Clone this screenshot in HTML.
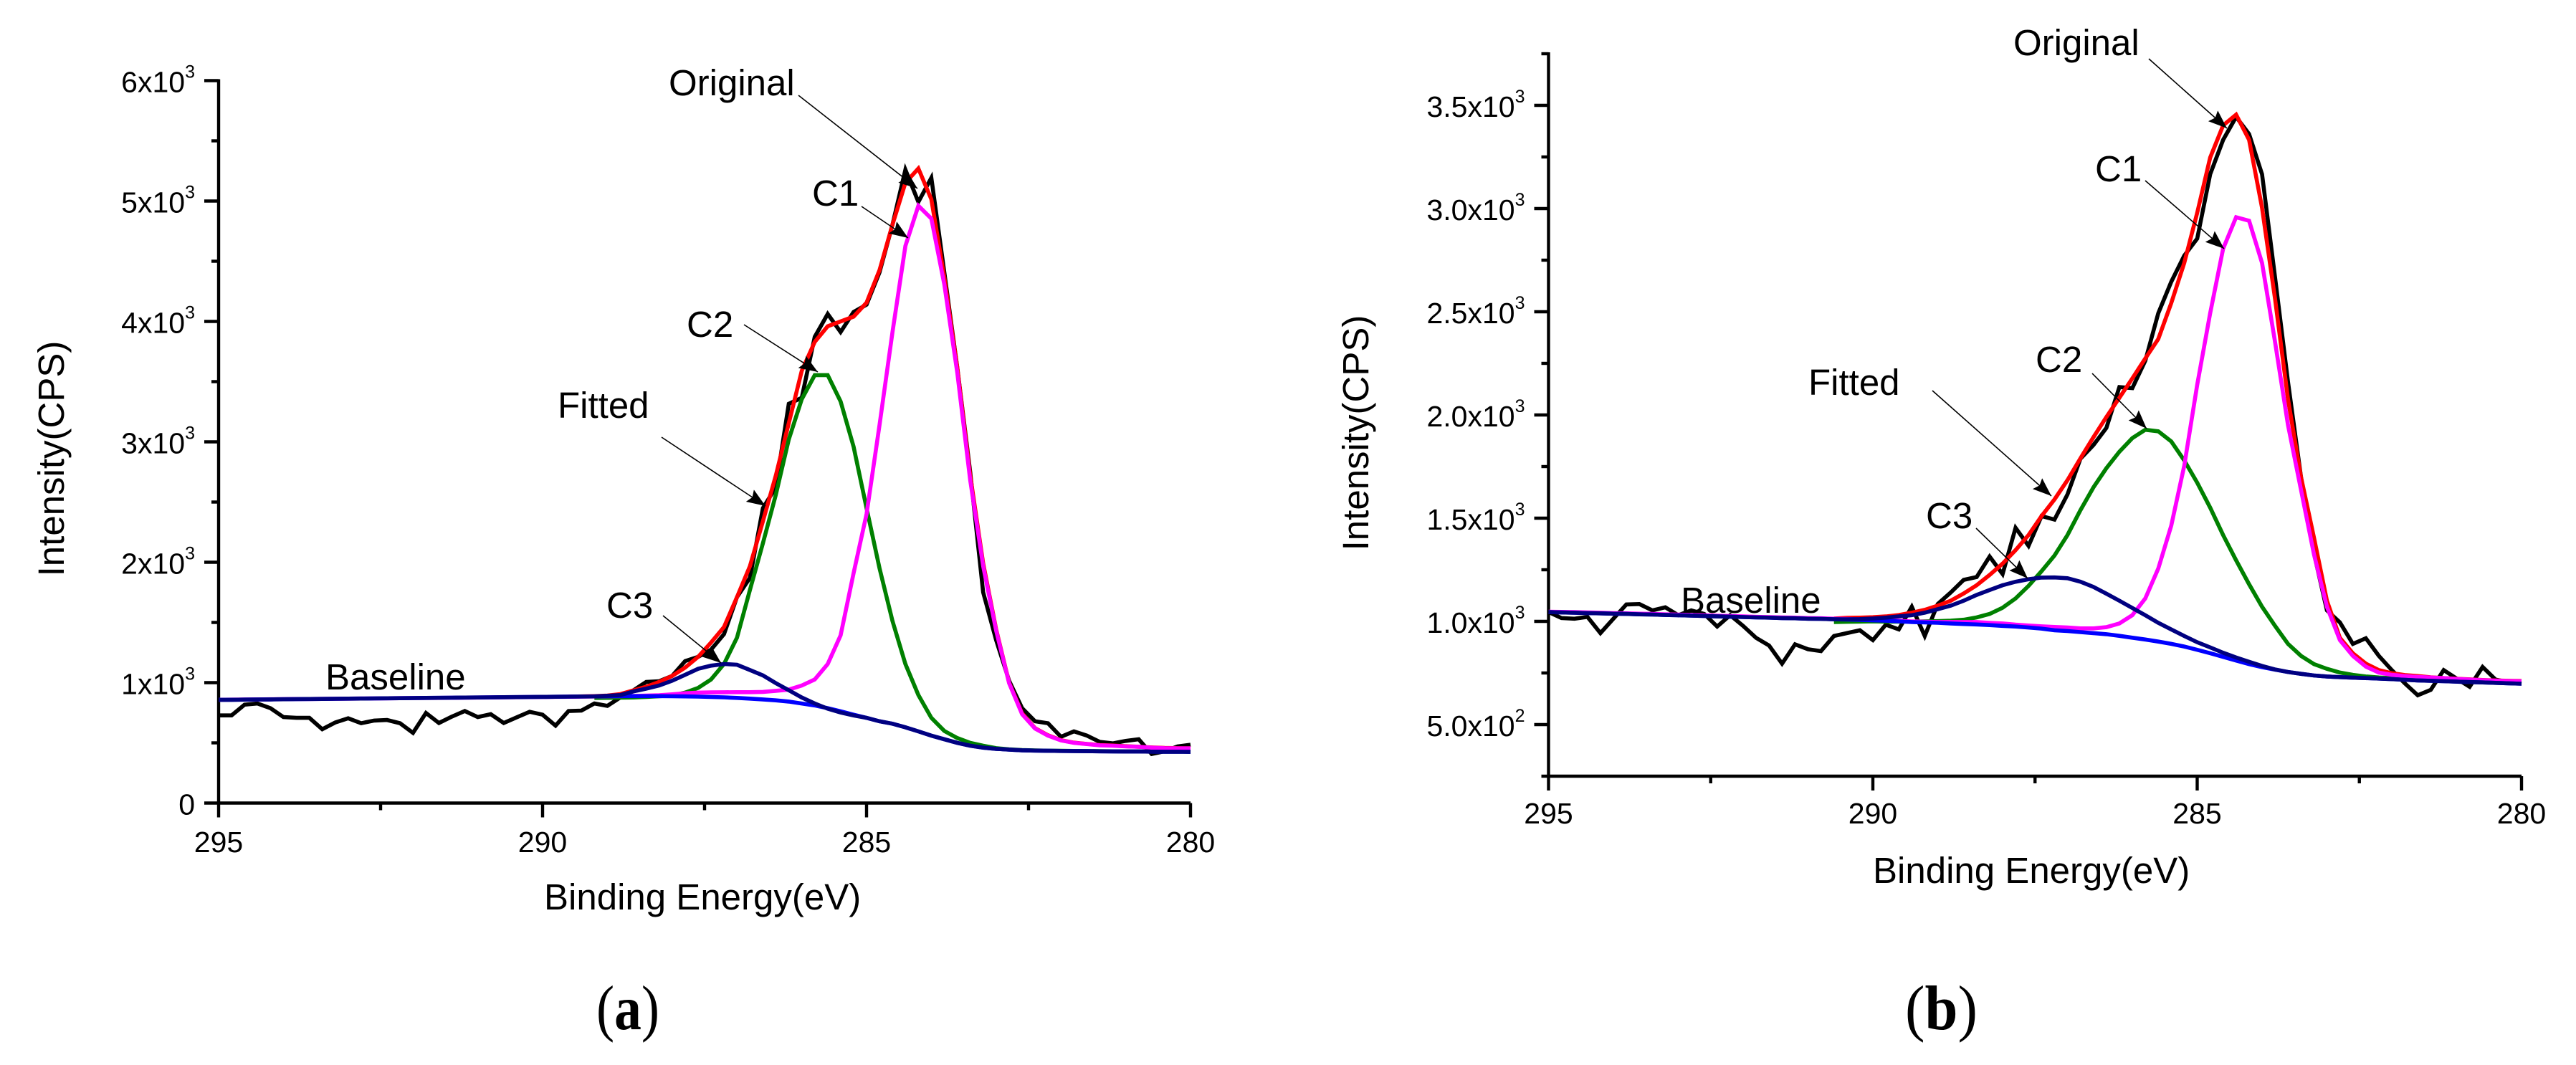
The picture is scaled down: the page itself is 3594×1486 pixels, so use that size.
<!DOCTYPE html>
<html lang="en">
<head>
<meta charset="utf-8">
<title>XPS C1s spectra (a) and (b)</title>
<style>
html,body{margin:0;padding:0;background:#fff;}
svg{display:block;}
text{font-family:"Liberation Sans",Arial,sans-serif;fill:#000;}
.lbl{font-size:51px;}
.cap{font-family:"Liberation Serif","Times New Roman",serif;font-size:88px;}
.ann{stroke:#000;stroke-width:1.6;fill:none;}
</style>
</head>
<body>
<svg id="figure" xmlns="http://www.w3.org/2000/svg" width="3594" height="1486" viewBox="0 0 3594 1486">
<defs>
<marker id="arrow" markerUnits="userSpaceOnUse" markerWidth="30" markerHeight="24" refX="26" refY="10" orient="auto">
<path d="M0 0 L26 10 L0 20 L4 10 Z" fill="#000"/>
</marker>
</defs>
<rect x="0" y="0" width="3594" height="1486" fill="#fff"/>
<g id="panel-a"></g>
<g id="panel-b"></g>

<g>
<text class="lbl" x="933" y="133">Original</text>
<line class="ann" x1="1114" y1="133" x2="1280" y2="263" marker-end="url(#arrow)"/>
<text class="lbl" x="1133" y="287">C1</text>
<line class="ann" x1="1202" y1="288" x2="1267" y2="332" marker-end="url(#arrow)"/>
<text class="lbl" x="958" y="470">C2</text>
<line class="ann" x1="1038" y1="453" x2="1141" y2="519" marker-end="url(#arrow)"/>
<text class="lbl" x="778" y="583">Fitted</text>
<line class="ann" x1="923" y1="610" x2="1068" y2="706" marker-end="url(#arrow)"/>
<text class="lbl" x="846" y="862">C3</text>
<line class="ann" x1="925" y1="859" x2="1006" y2="925" marker-end="url(#arrow)"/>
<text class="lbl" x="454" y="962">Baseline</text>
<text class="lbl" x="759" y="1269">Binding Energy(eV)</text>
<text class="lbl" text-anchor="middle" transform="translate(89 640) rotate(-90)">Intensity(CPS)</text>
<text class="cap" x="832" y="1436" textLength="88" lengthAdjust="spacingAndGlyphs">(<tspan font-weight="bold">a</tspan>)</text>
</g>

<g>
<text class="lbl" x="2809" y="77">Original</text>
<line class="ann" x1="2998" y1="82" x2="3107" y2="179" marker-end="url(#arrow)"/>
<text class="lbl" x="2923" y="253">C1</text>
<line class="ann" x1="2993" y1="252" x2="3103" y2="347" marker-end="url(#arrow)"/>
<text class="lbl" x="2840" y="519">C2</text>
<line class="ann" x1="2919" y1="521" x2="2995" y2="598" marker-end="url(#arrow)"/>
<text class="lbl" x="2523" y="551">Fitted</text>
<line class="ann" x1="2696" y1="545" x2="2862" y2="692" marker-end="url(#arrow)"/>
<text class="lbl" x="2687" y="737">C3</text>
<line class="ann" x1="2757" y1="737" x2="2829" y2="807" marker-end="url(#arrow)"/>
<text class="lbl" x="2345" y="855">Baseline</text>
<text class="lbl" x="2613" y="1232">Binding Energy(eV)</text>
<text class="lbl" text-anchor="middle" transform="translate(1909 604) rotate(-90)">Intensity(CPS)</text>
<text class="cap" x="2658" y="1436" textLength="101" lengthAdjust="spacingAndGlyphs">(<tspan font-weight="bold">b</tspan>)</text>
</g>
</svg>

<script>
const bindingEnergy = [295,294.8,294.6,294.4,294.2,294,293.8,293.6,293.4,293.2,293,292.8,292.6,292.4,292.2,292,291.8,291.6,291.4,291.2,291,290.8,290.6,290.4,290.2,290,289.8,289.6,289.4,289.2,289,288.8,288.6,288.4,288.2,288,287.8,287.6,287.4,287.2,287,286.8,286.6,286.4,286.2,286,285.8,285.6,285.4,285.2,285,284.8,284.6,284.4,284.2,284,283.8,283.6,283.4,283.2,283,282.8,282.6,282.4,282.2,282,281.8,281.6,281.4,281.2,281,280.8,280.6,280.4,280.2,280];

const xMajorTicks = [295,290,285,280];
const xMinorTicks = [292.5,287.5,282.5];

/* Panel (a) */
const yMajorTicksA = [0,1000,2000,3000,4000,5000,6000];
const yMinorTicksA = [500,1500,2500,3500,4500,5500];
const yTickMantissaA = ['0','1x10','2x10','3x10','4x10','5x10','6x10'];
const yTickExponentA = ['','3','3','3','3','3','3'];
const originalA = [728,728,817,827,788,714,708,708,613,669,704,663,685,690,663,583,748,665,718,764,714,738,665,712,758,734,643,764,768,827,807,877,936,1006,1012,1056,1179,1214,1274,1403,1710,1870,2450,2622,3316,3366,3872,4062,3912,4078,4140,4408,4804,5260,4992,5193,4408,3616,2750,1750,1353,1016,788,679,663,550,595,560,508,496,516,530,407,430,470,484];
const fittedA = [null,null,null,null,null,null,null,null,null,null,null,null,null,null,null,null,null,null,null,null,null,null,null,null,null,null,null,884,886,888,893,905,936,966,1006,1056,1125,1214,1333,1462,1710,1968,2340,2720,3155,3590,3830,3960,4000,4040,4156,4426,4804,5151,5270,5014,4366,3616,2722,1990,1443,1000,745,622,563,522,502,491,482,478,472,468,462,458,456,455];
const c1A = [858,859,860,861,862,863,864,864,865,866,867,868,869,870,871,872,873,873,874,875,876,877,878,879,880,881,882,883,884,885,887,888,890,892,896,903,912,917,919,920,921,921,923,932,942,976,1026,1155,1393,1909,2400,3140,3912,4627,4961,4854,4308,3574,2682,1968,1433,996,738,619,560,520,500,490,480,476,470,467,460,456,454,454];
const c2A = [null,null,null,null,null,null,null,null,null,null,null,null,null,null,null,null,null,null,null,null,null,null,null,null,null,null,null,null,null,873,874,875,877,881,887,893,917,956,1026,1155,1373,1770,2158,2560,3020,3354,3554,3554,3336,2960,2450,1950,1512,1155,897,708,599,540,500,476,456,446,440,437,435,434,433,432,431,430,429,429,428,427,427,426];
const baselineA = [857,858,859,860,861,862,863,864,865,866,867,868,869,870,871,872,873,874,875,876,877,878,879,880,881,882,883,884,885,886,887,888,888,888,888,887,886,884,881,878,873,867,861,853,843,827,811,788,762,734,708,679,659,629,595,560,530,500,476,460,450,444,438,436,434,433,432,431,430,429,428,428,427,426,426,425];
const c3A = [857,858,859,860,861,862,863,864,865,866,867,868,869,870,871,872,873,874,875,876,877,878,879,880,881,882,883,884,885,886,891,897,927,950,976,1016,1065,1115,1141,1155,1149,1105,1060,996,937,877,827,784,752,728,708,679,659,629,595,560,530,500,476,460,450,444,438,436,434,433,432,431,430,429,428,428,427,426,426,425];

/* Panel (b) */
const yMajorTicksB = [500,1000,1500,2000,2500,3000,3500];
const yMinorTicksB = [250,750,1250,1750,2250,2750,3250,3750];
const yTickMantissaB = ['5.0x10','1.0x10','1.5x10','2.0x10','2.5x10','3.0x10','3.5x10'];
const yTickExponentB = ['2','3','3','3','3','3','3'];
const originalB = [1045,1016,1013,1022,943,1013,1082,1084,1053,1068,1030,1053,1036,975,1030,978,920,883,795,889,865,856,929,943,957,909,984,961,1071,929,1084,1140,1201,1215,1314,1229,1453,1366,1510,1493,1615,1788,1854,1937,2135,2130,2263,2493,2645,2772,2854,3166,3333,3444,3361,3166,2667,2160,1700,1330,1053,995,891,918,833,764,700,642,668,764,723,683,779,718,706,706];
const fittedB = [null,null,null,null,null,null,null,null,null,null,null,null,null,null,null,null,null,null,null,null,null,null,1014,1017,1018,1020,1024,1031,1042,1056,1076,1100,1135,1175,1225,1280,1345,1418,1510,1591,1684,1790,1892,1990,2083,2177,2274,2368,2542,2736,2979,3247,3403,3455,3333,3003,2563,2076,1700,1406,1100,920,845,795,764,749,740,735,729,725,722,719,716,714,712,711];
const c1B = [1047,1046,1045,1043,1042,1040,1039,1037,1036,1034,1033,1031,1029,1027,1026,1024,1022,1021,1019,1018,1016,1015,1013,1012,1010,1008,1006,1003,1000,998,997,997,997,997,993,990,984,980,976,973,970,966,966,972,990,1030,1111,1256,1464,1753,2146,2493,2806,2958,2941,2736,2354,1951,1638,1325,1071,909,833,781,752,741,735,731,728,725,721,718,715,713,711,710];
const c2B = [null,null,null,null,null,null,null,null,null,null,null,null,null,null,null,null,null,null,null,null,null,null,997,998,999,1000,999,999,999,1000,1001,1003,1008,1019,1036,1066,1111,1172,1243,1319,1418,1539,1649,1742,1822,1888,1928,1921,1872,1780,1672,1551,1418,1296,1180,1071,978,891,833,793,770,752,741,733,728,725,720,717,714,712,710,708,706,704,702,700];
const baselineB = [1045,1043,1042,1040,1039,1037,1036,1034,1033,1031,1030,1028,1026,1024,1023,1021,1019,1018,1016,1015,1013,1012,1010,1009,1007,1005,1003,1000,997,995,993,990,987,985,982,978,975,970,965,957,953,948,943,938,930,921,912,902,891,878,862,846,828,810,793,778,766,755,746,738,733,730,727,725,723,720,717,714,712,710,708,706,704,702,700,698];
const c3B = [1045,1043,1042,1040,1039,1037,1036,1034,1033,1031,1030,1028,1026,1024,1023,1021,1019,1018,1016,1015,1013,1012,1010,1010,1011,1014,1018,1024,1030,1042,1059,1076,1100,1128,1152,1175,1192,1204,1212,1213,1209,1192,1167,1134,1100,1065,1030,993,961,929,899,874,848,825,804,784,767,755,746,738,733,730,727,725,723,720,717,714,712,710,708,706,704,702,700,698];

const SVG_NS = 'http://www.w3.org/2000/svg';

function linearScale(d0, d1, r0, r1) {
  return function (v) { return r0 + (v - d0) / (d1 - d0) * (r1 - r0); };
}

function makeLine(parent, x1, y1, x2, y2) {
  const el = document.createElementNS(SVG_NS, 'line');
  el.setAttribute('x1', x1);
  el.setAttribute('y1', y1);
  el.setAttribute('x2', x2);
  el.setAttribute('y2', y2);
  el.setAttribute('stroke', '#000');
  el.setAttribute('stroke-width', 4.4);
  parent.appendChild(el);
  return el;
}

function makeSeries(parent, values, xScale, yScale, color) {
  let d = '';
  for (let i = 0; i < values.length; i++) {
    if (values[i] === null) continue;
    d += (d ? 'L' : 'M') + xScale(bindingEnergy[i]).toFixed(1) + ' ' + yScale(values[i]).toFixed(1);
  }
  const el = document.createElementNS(SVG_NS, 'path');
  el.setAttribute('d', d);
  el.setAttribute('fill', 'none');
  el.setAttribute('stroke', color);
  el.setAttribute('stroke-width', 5.6);
  el.setAttribute('stroke-linejoin', 'miter');
  parent.appendChild(el);
  return el;
}

function drawAxes(panel, xScale, yScale, box, majorsY, minorsY, mantissas, exponents, xLabelY) {
  const yAxis = makeLine(panel, box.left, box.top - 2, box.left, box.bottom + 2);
  
  
  const xAxis = makeLine(panel, box.left, box.bottom, box.right, box.bottom);
  
  

  majorsY.forEach(function (v, i) {
    const y = yScale(v);
    const tick = makeLine(panel, box.left - 20, y, box.left, y);
    
    
    const label = document.createElementNS(SVG_NS, 'text');
    
    
    label.setAttribute('text-anchor', 'end');
    label.setAttribute('font-size', '41');
    label.setAttribute('x', box.left - 33);
    label.setAttribute('y', y + 16);
    label.appendChild(document.createTextNode(mantissas[i]));
    if (exponents[i]) {
      const sup = document.createElementNS(SVG_NS, 'tspan');
      sup.setAttribute('font-size', '25');
      sup.setAttribute('dy', '-20');
      sup.textContent = exponents[i];
      label.appendChild(sup);
    }
    panel.appendChild(label);
  });
  minorsY.forEach(function (v) {
    const y = yScale(v);
    const tick = makeLine(panel, box.left - 10, y, box.left, y);
    
    
  });
  xMajorTicks.forEach(function (v) {
    const x = xScale(v);
    const tick = makeLine(panel, x, box.bottom, x, box.bottom + 20);
    
    
    const label = document.createElementNS(SVG_NS, 'text');
    
    
    label.setAttribute('text-anchor', 'middle');
    label.setAttribute('font-size', '41');
    label.setAttribute('x', x);
    label.setAttribute('y', xLabelY);
    label.textContent = String(v);
    panel.appendChild(label);
  });
  xMinorTicks.forEach(function (v) {
    const x = xScale(v);
    const tick = makeLine(panel, x, box.bottom, x, box.bottom + 10);
    
    
  });
}

function drawSeriesSet(panel, xScale, yScale, original, fitted, c1, c2, baseline, c3) {
  const s1 = makeSeries(panel, original, xScale, yScale, '#000000');
  
  
  const s2 = makeSeries(panel, fitted, xScale, yScale, '#ff0000');
  
  
  const s3 = makeSeries(panel, c2, xScale, yScale, '#008000');
  
  
  const s4 = makeSeries(panel, c1, xScale, yScale, '#ff00ff');
  
  
  const s5 = makeSeries(panel, baseline, xScale, yScale, '#0000ff');
  
  
  const s6 = makeSeries(panel, c3, xScale, yScale, '#000080');
  
  
}

/* Panel (a) axes: 295-280 eV, 0-6000 CPS */
const panelA = document.getElementById('panel-a');
const xA = linearScale(295, 280, 305, 1661);
const yA = linearScale(0, 6000, 1120.5, 112.5);
drawAxes(panelA, xA, yA, {left: 305, right: 1661, top: 112.5, bottom: 1120.5}, yMajorTicksA, yMinorTicksA, yTickMantissaA, yTickExponentA, 1189);
drawSeriesSet(panelA, xA, yA, originalA, fittedA, c1A, c2A, baselineA, c3A);

/* Panel (b) axes: 295-280 eV, 250-3750 CPS */
const panelB = document.getElementById('panel-b');
const xB = linearScale(295, 280, 2160.5, 3518);
const yB = linearScale(250, 3750, 1083, 75);
drawAxes(panelB, xB, yB, {left: 2160.5, right: 3518, top: 75, bottom: 1083}, yMajorTicksB, yMinorTicksB, yTickMantissaB, yTickExponentB, 1149);
drawSeriesSet(panelB, xB, yB, originalB, fittedB, c1B, c2B, baselineB, c3B);
</script>
</body>
</html>
